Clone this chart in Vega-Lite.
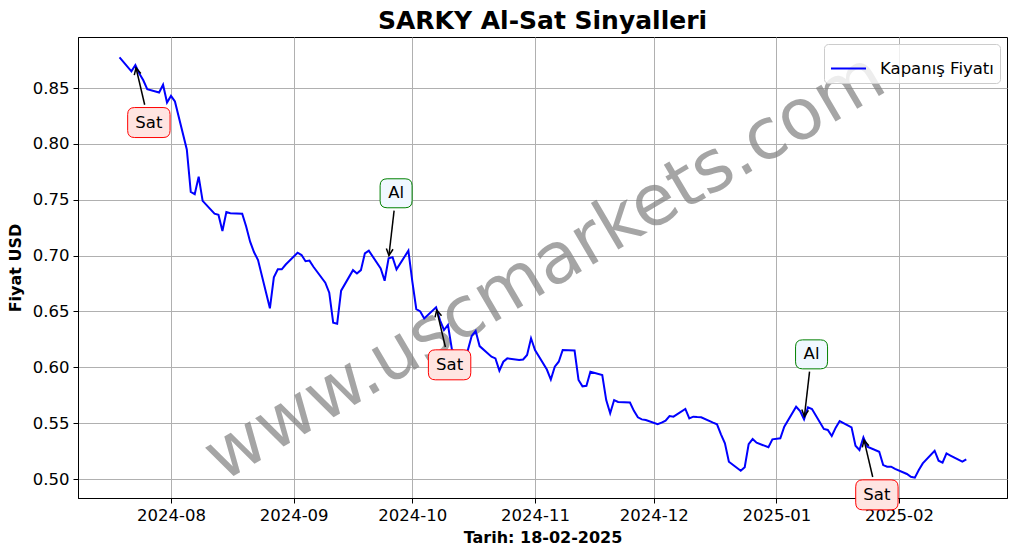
{
  "$schema": "https://vega.github.io/schema/vega-lite/v6.json",
  "width": 929,
  "height": 461,
  "autosize": {"type": "none"},
  "padding": {"left": 78, "top": 37, "right": 10, "bottom": 56},
  "background": "white",
  "title": {"text": "SARKY Al-Sat Sinyalleri", "font": "DejaVu Sans", "fontSize": 25, "fontWeight": "bold", "color": "black", "anchor": "middle", "offset": 3},
  "config": {
    "font": "DejaVu Sans",
    "view": {"stroke": "black", "strokeWidth": 1},
    "axis": {
      "labelFont": "DejaVu Sans", "labelFontSize": 16.5, "labelColor": "black",
      "titleFont": "DejaVu Sans", "titleFontSize": 16, "titleFontWeight": "bold", "titleColor": "black",
      "domainColor": "black", "tickColor": "black", "tickSize": 5, "tickWidth": 1,
      "grid": true, "gridColor": "#b0b0b0", "gridWidth": 1, "labelPadding": 4
    },
    "legend": {
      "orient": "top-right", "offset": 7, "strokeColor": "#cccccc", "fillColor": "rgba(255,255,255,0.8)",
      "cornerRadius": 4, "padding": 6, "labelFont": "DejaVu Sans", "labelFontSize": 16.5, "labelColor": "black",
      "symbolType": "stroke", "symbolSize": 1225, "symbolStrokeWidth": 2, "labelOffset": 13
    }
  },
  "datasets": {
    "prices": [
      {"date": "2024-07-19", "price": 0.8775},
      {"date": "2024-07-22", "price": 0.865},
      {"date": "2024-07-23", "price": 0.8706},
      {"date": "2024-07-24", "price": 0.863},
      {"date": "2024-07-25", "price": 0.857},
      {"date": "2024-07-26", "price": 0.849},
      {"date": "2024-07-29", "price": 0.846},
      {"date": "2024-07-30", "price": 0.853},
      {"date": "2024-07-31", "price": 0.837},
      {"date": "2024-08-01", "price": 0.843},
      {"date": "2024-08-02", "price": 0.838},
      {"date": "2024-08-05", "price": 0.795},
      {"date": "2024-08-06", "price": 0.757},
      {"date": "2024-08-07", "price": 0.755},
      {"date": "2024-08-08", "price": 0.7707},
      {"date": "2024-08-09", "price": 0.749},
      {"date": "2024-08-12", "price": 0.7375},
      {"date": "2024-08-13", "price": 0.7365},
      {"date": "2024-08-14", "price": 0.722},
      {"date": "2024-08-15", "price": 0.739},
      {"date": "2024-08-16", "price": 0.738},
      {"date": "2024-08-19", "price": 0.7375},
      {"date": "2024-08-20", "price": 0.726},
      {"date": "2024-08-21", "price": 0.7125},
      {"date": "2024-08-22", "price": 0.703},
      {"date": "2024-08-23", "price": 0.696},
      {"date": "2024-08-26", "price": 0.6528},
      {"date": "2024-08-27", "price": 0.6805},
      {"date": "2024-08-28", "price": 0.6877},
      {"date": "2024-08-29", "price": 0.6877},
      {"date": "2024-08-30", "price": 0.692},
      {"date": "2024-09-02", "price": 0.7026},
      {"date": "2024-09-03", "price": 0.7005},
      {"date": "2024-09-04", "price": 0.695},
      {"date": "2024-09-05", "price": 0.6955},
      {"date": "2024-09-06", "price": 0.690},
      {"date": "2024-09-09", "price": 0.6757},
      {"date": "2024-09-10", "price": 0.6668},
      {"date": "2024-09-11", "price": 0.640},
      {"date": "2024-09-12", "price": 0.639},
      {"date": "2024-09-13", "price": 0.6686},
      {"date": "2024-09-16", "price": 0.687},
      {"date": "2024-09-17", "price": 0.684},
      {"date": "2024-09-18", "price": 0.687},
      {"date": "2024-09-19", "price": 0.702},
      {"date": "2024-09-20", "price": 0.7044},
      {"date": "2024-09-23", "price": 0.6886},
      {"date": "2024-09-24", "price": 0.6775},
      {"date": "2024-09-25", "price": 0.6976},
      {"date": "2024-09-26", "price": 0.6985},
      {"date": "2024-09-27", "price": 0.6877},
      {"date": "2024-09-30", "price": 0.7044},
      {"date": "2024-10-01", "price": 0.6766},
      {"date": "2024-10-02", "price": 0.652},
      {"date": "2024-10-03", "price": 0.650},
      {"date": "2024-10-04", "price": 0.6438},
      {"date": "2024-10-07", "price": 0.6537},
      {"date": "2024-10-08", "price": 0.642},
      {"date": "2024-10-09", "price": 0.6334},
      {"date": "2024-10-10", "price": 0.638},
      {"date": "2024-10-11", "price": 0.616},
      {"date": "2024-10-14", "price": 0.607},
      {"date": "2024-10-15", "price": 0.615},
      {"date": "2024-10-16", "price": 0.628},
      {"date": "2024-10-17", "price": 0.6325},
      {"date": "2024-10-18", "price": 0.619},
      {"date": "2024-10-21", "price": 0.6095},
      {"date": "2024-10-22", "price": 0.608},
      {"date": "2024-10-23", "price": 0.597},
      {"date": "2024-10-24", "price": 0.605},
      {"date": "2024-10-25", "price": 0.608},
      {"date": "2024-10-28", "price": 0.6065},
      {"date": "2024-10-29", "price": 0.607},
      {"date": "2024-10-30", "price": 0.611},
      {"date": "2024-10-31", "price": 0.626},
      {"date": "2024-11-01", "price": 0.6155},
      {"date": "2024-11-04", "price": 0.598},
      {"date": "2024-11-05", "price": 0.589},
      {"date": "2024-11-06", "price": 0.6005},
      {"date": "2024-11-07", "price": 0.605},
      {"date": "2024-11-08", "price": 0.6155},
      {"date": "2024-11-11", "price": 0.615},
      {"date": "2024-11-12", "price": 0.5887},
      {"date": "2024-11-13", "price": 0.583},
      {"date": "2024-11-14", "price": 0.5835},
      {"date": "2024-11-15", "price": 0.596},
      {"date": "2024-11-18", "price": 0.593},
      {"date": "2024-11-19", "price": 0.5707},
      {"date": "2024-11-20", "price": 0.5588},
      {"date": "2024-11-21", "price": 0.5707},
      {"date": "2024-11-22", "price": 0.569},
      {"date": "2024-11-25", "price": 0.5685},
      {"date": "2024-11-26", "price": 0.561},
      {"date": "2024-11-27", "price": 0.5552},
      {"date": "2024-11-28", "price": 0.5534},
      {"date": "2024-11-29", "price": 0.5528},
      {"date": "2024-12-02", "price": 0.549},
      {"date": "2024-12-03", "price": 0.5505},
      {"date": "2024-12-04", "price": 0.5522},
      {"date": "2024-12-05", "price": 0.5564},
      {"date": "2024-12-06", "price": 0.5558},
      {"date": "2024-12-09", "price": 0.5627},
      {"date": "2024-12-10", "price": 0.5543},
      {"date": "2024-12-11", "price": 0.5558},
      {"date": "2024-12-12", "price": 0.5555},
      {"date": "2024-12-13", "price": 0.5553},
      {"date": "2024-12-16", "price": 0.5505},
      {"date": "2024-12-17", "price": 0.549},
      {"date": "2024-12-18", "price": 0.540},
      {"date": "2024-12-19", "price": 0.532},
      {"date": "2024-12-20", "price": 0.5155},
      {"date": "2024-12-23", "price": 0.5074},
      {"date": "2024-12-24", "price": 0.5105},
      {"date": "2024-12-25", "price": 0.5313},
      {"date": "2024-12-26", "price": 0.5358},
      {"date": "2024-12-27", "price": 0.5325},
      {"date": "2024-12-30", "price": 0.5284},
      {"date": "2024-12-31", "price": 0.5355},
      {"date": "2025-01-02", "price": 0.5364},
      {"date": "2025-01-03", "price": 0.5468},
      {"date": "2025-01-06", "price": 0.5647},
      {"date": "2025-01-07", "price": 0.5609},
      {"date": "2025-01-08", "price": 0.5534},
      {"date": "2025-01-09", "price": 0.5642},
      {"date": "2025-01-10", "price": 0.5627},
      {"date": "2025-01-13", "price": 0.5448},
      {"date": "2025-01-14", "price": 0.5439},
      {"date": "2025-01-15", "price": 0.5385},
      {"date": "2025-01-16", "price": 0.546},
      {"date": "2025-01-17", "price": 0.5519},
      {"date": "2025-01-20", "price": 0.5463},
      {"date": "2025-01-21", "price": 0.5298},
      {"date": "2025-01-22", "price": 0.526},
      {"date": "2025-01-23", "price": 0.5373},
      {"date": "2025-01-24", "price": 0.5289},
      {"date": "2025-01-27", "price": 0.5244},
      {"date": "2025-01-28", "price": 0.5125},
      {"date": "2025-01-29", "price": 0.511},
      {"date": "2025-01-30", "price": 0.511},
      {"date": "2025-01-31", "price": 0.509},
      {"date": "2025-02-03", "price": 0.5045},
      {"date": "2025-02-04", "price": 0.502},
      {"date": "2025-02-05", "price": 0.5012},
      {"date": "2025-02-06", "price": 0.508},
      {"date": "2025-02-07", "price": 0.514},
      {"date": "2025-02-10", "price": 0.5253},
      {"date": "2025-02-11", "price": 0.5164},
      {"date": "2025-02-12", "price": 0.5146},
      {"date": "2025-02-13", "price": 0.5229},
      {"date": "2025-02-14", "price": 0.521},
      {"date": "2025-02-17", "price": 0.5155},
      {"date": "2025-02-18", "price": 0.5176}
    ],
    "signals": [
      {"date": "2024-07-23", "price": 0.8706, "sinyal": "Sat"},
      {"date": "2024-09-25", "price": 0.6976, "sinyal": "Al"},
      {"date": "2024-10-07", "price": 0.6537, "sinyal": "Sat"},
      {"date": "2025-01-08", "price": 0.5534, "sinyal": "Al"},
      {"date": "2025-01-23", "price": 0.5373, "sinyal": "Sat"}
    ],
    "watermark": [{"t": "www.uscmarkets.com"}]
  },
  "encoding": {
    "x": {
      "field": "date", "type": "temporal",
      "scale": {"type": "utc", "domain": [{"year": 2024, "month": 7, "date": 8, "hours": 12, "utc": true}, {"year": 2025, "month": 2, "date": 28, "hours": 7, "utc": true}]},
      "axis": {"format": "%Y-%m", "tickCount": {"interval": "month", "step": 1}, "title": "Tarih: 18-02-2025", "titlePadding": 6, "labelFlush": false, "labelOverlap": false}
    },
    "y": {
      "field": "price", "type": "quantitative",
      "scale": {"domain": [0.483, 0.8957], "nice": false, "zero": false},
      "axis": {"values": [0.5, 0.55, 0.6, 0.65, 0.7, 0.75, 0.8, 0.85], "format": ".2f", "title": "Fiyat USD", "titlePadding": 9}
    }
  },
  "layer": [
    {
      "data": {"name": "watermark"},
      "mark": {"type": "text", "x": {"expr": "width/2"}, "y": {"expr": "height/2"}, "angle": -30.5, "fontSize": 71, "font": "DejaVu Sans", "fill": "#808080", "opacity": 0.7, "align": "center", "baseline": "middle", "dx": 2, "dy": 2},
      "encoding": {"x": null, "y": null, "text": {"field": "t"}}
    },
    {
      "data": {"name": "prices"},
      "mark": {"type": "line", "strokeWidth": 2},
      "encoding": {
        "color": {"datum": "Kapanış Fiyatı", "type": "nominal", "scale": {"range": ["#0000ff"]}, "legend": {"title": null}}
      }
    },
    {
      "data": {"name": "signals"},
      "transform": [{"filter": "datum.sinyal === 'Sat'"}],
      "mark": {"type": "rule", "color": "black", "strokeWidth": 1.5, "xOffset": 0.64, "yOffset": 2.73, "x2Offset": 9.3, "y2Offset": 39.7},
      "encoding": {"x2": {"field": "date"}, "y2": {"field": "price"}}
    },
    {
      "data": {"name": "signals"},
      "transform": [{"filter": "datum.sinyal === 'Al'"}],
      "mark": {"type": "rule", "color": "black", "strokeWidth": 1.5, "xOffset": 0.32, "yOffset": -2.78, "x2Offset": 5.5, "y2Offset": -47.7},
      "encoding": {"x2": {"field": "date"}, "y2": {"field": "price"}}
    },
    {
      "data": {"name": "signals"},
      "transform": [{"filter": "datum.sinyal === 'Sat'"}],
      "mark": {"type": "point", "shape": "M -0.5 1 L 0 0 L 0.5 1", "size": 180, "filled": false, "stroke": "black", "strokeWidth": 1.5, "opacity": 1, "angle": -13.2, "xOffset": 0.64, "yOffset": 2.73}
    },
    {
      "data": {"name": "signals"},
      "transform": [{"filter": "datum.sinyal === 'Al'"}],
      "mark": {"type": "point", "shape": "M -0.5 1 L 0 0 L 0.5 1", "size": 180, "filled": false, "stroke": "black", "strokeWidth": 1.5, "opacity": 1, "angle": 186.6, "xOffset": 0.32, "yOffset": -2.78}
    },
    {
      "data": {"name": "signals"},
      "transform": [{"filter": "datum.sinyal === 'Sat'"}],
      "mark": {"type": "point", "shape": "M -0.67 -0.7075 L 0.67 -0.7075 Q 1 -0.7075 1 -0.3775 L 1 0.3775 Q 1 0.7075 0.67 0.7075 L -0.67 0.7075 Q -1 0.7075 -1 0.3775 L -1 -0.3775 Q -1 -0.7075 -0.67 -0.7075 Z", "size": 1798, "filled": true, "fill": "#ffe4e1", "stroke": "#ff0000", "strokeWidth": 1, "opacity": 1, "xOffset": 13.5, "yOffset": 57.5}
    },
    {
      "data": {"name": "signals"},
      "transform": [{"filter": "datum.sinyal === 'Al'"}],
      "mark": {"type": "point", "shape": "M -0.5625 -0.906 L 0.5625 -0.906 Q 1 -0.906 1 -0.4685 L 1 0.4685 Q 1 0.906 0.5625 0.906 L -0.5625 0.906 Q -1 0.906 -1 0.4685 L -1 -0.4685 Q -1 -0.906 -0.5625 -0.906 Z", "size": 1024, "filled": true, "fill": "#f0f8ff", "stroke": "#008000", "strokeWidth": 1, "opacity": 1, "xOffset": 7.5, "yOffset": -65}
    },
    {
      "data": {"name": "signals"},
      "transform": [{"filter": "datum.sinyal === 'Sat'"}],
      "mark": {"type": "text", "fontSize": 16.5, "font": "DejaVu Sans", "color": "black", "align": "center", "baseline": "middle", "dx": 13.5, "dy": 57.5},
      "encoding": {"text": {"field": "sinyal"}}
    },
    {
      "data": {"name": "signals"},
      "transform": [{"filter": "datum.sinyal === 'Al'"}],
      "mark": {"type": "text", "fontSize": 16.5, "font": "DejaVu Sans", "color": "black", "align": "center", "baseline": "middle", "dx": 7.5, "dy": -65},
      "encoding": {"text": {"field": "sinyal"}}
    }
  ]
}
